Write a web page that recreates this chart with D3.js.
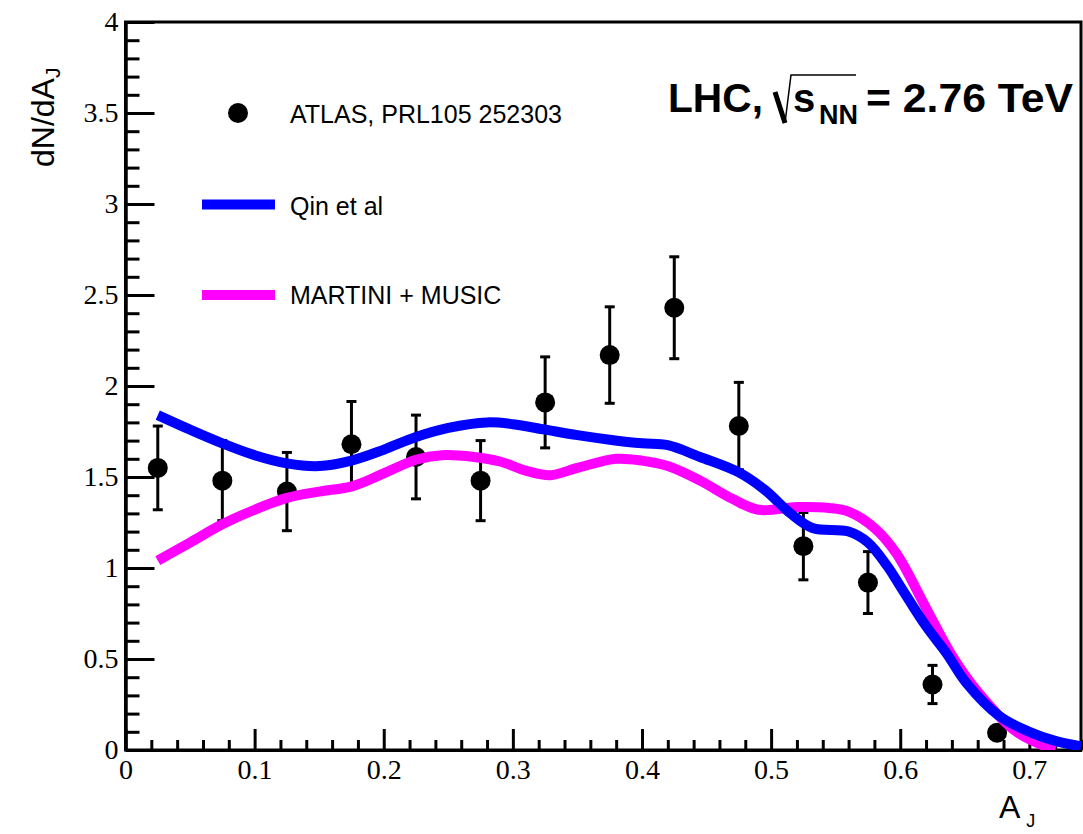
<!DOCTYPE html>
<html><head><meta charset="utf-8">
<script src="https://cdn.jsdelivr.net/npm/d3@7"></script>
<style>body{margin:0;background:#fff}</style>
</head><body>
<script>
// ATLAS data points (bin centres, values, errors)
const dataX   = [0.025,0.075,0.125,0.175,0.225,0.275,0.325,0.375,0.425,0.475,0.525,0.575,0.625,0.675];
const dataY   = [1.55, 1.48, 1.42, 1.68, 1.61, 1.48, 1.91, 2.17, 2.43, 1.78, 1.12, 0.92, 0.36, 0.095];
const dataErr = [0.23, 0.22, 0.215,0.235,0.23, 0.22, 0.25, 0.265,0.28, 0.24, 0.185,0.17, 0.105,0.0];

// Qin et al curve
const qinX = [0.025,0.05,0.075,0.1,0.125,0.15,0.175,0.2,0.225,0.25,0.28,0.30,0.325,0.35,0.375,0.40,0.42,0.445,0.475,0.495,0.515,0.532,0.56,0.575,0.59,0.60,0.62,0.636,0.651,0.677,0.70,0.72,0.74];
const qinY = [1.84,1.76,1.685,1.62,1.575,1.56,1.59,1.65,1.72,1.77,1.80,1.79,1.76,1.73,1.705,1.685,1.675,1.61,1.525,1.43,1.30,1.22,1.20,1.14,1.01,0.90,0.68,0.53,0.37,0.185,0.10,0.05,0.02];

// MARTINI + MUSIC curve
const martiniX = [0.025,0.05,0.075,0.1,0.125,0.15,0.176,0.2,0.225,0.245,0.27,0.29,0.31,0.329,0.35,0.38,0.40,0.42,0.445,0.47,0.49,0.52,0.545,0.56,0.58,0.597,0.62,0.64,0.66,0.69,0.72];
const martiniY = [1.04,1.14,1.24,1.32,1.385,1.42,1.45,1.52,1.595,1.62,1.61,1.585,1.535,1.51,1.55,1.60,1.59,1.56,1.48,1.38,1.32,1.335,1.33,1.31,1.22,1.08,0.78,0.52,0.32,0.10,0.0];

const xTicks = [0,0.1,0.2,0.3,0.4,0.5,0.6,0.7];
const xTickLabels = ["0","0.1","0.2","0.3","0.4","0.5","0.6","0.7"];
const yTicks = [0,0.5,1,1.5,2,2.5,3,3.5,4];
const yTickLabels = ["0","0.5","1","1.5","2","2.5","3","3.5","4"];

const legendLabels = ["ATLAS, PRL105 252303","Qin et al","MARTINI + MUSIC"];

const W = 1083, H = 834;
const svg = d3.select("body").append("svg").attr("width",W).attr("height",H)
  .style("background","#fff");

const x = d3.scaleLinear().domain([0,0.74]).range([125.5,1081]);
const y = d3.scaleLinear().domain([0,4]).range([750,22]);

const serif = "'Liberation Serif','Times New Roman',serif";
const sans = "'Liberation Sans',Arial,Helvetica,sans-serif";

// clip
svg.append("clipPath").attr("id","clip").append("rect")
  .attr("x",x(0)).attr("y",y(4)).attr("width",x(0.74)-x(0)).attr("height",y(0)-y(4));

// minor ticks
const yMinor = d3.range(0,4.0001,0.1).filter(v=>Math.abs(v*2-Math.round(v*2))>1e-6);
const xMinor = d3.range(0,0.7401,0.02).filter(v=>Math.abs(v*10-Math.round(v*10))>1e-6);

const yAxisMinor = svg.append("g").attr("transform",`translate(${x(0)},0)`)
  .call(d3.axisLeft(y).tickValues(yMinor).tickSize(-14).tickSizeOuter(0).tickFormat(""));
const yAxis = svg.append("g").attr("transform",`translate(${x(0)},0)`)
  .call(d3.axisLeft(y).tickValues(yTicks).tickSize(-29).tickSizeOuter(0).tickPadding(7)
    .tickFormat((d,i)=>yTickLabels[i]));
const xAxisMinor = svg.append("g").attr("transform",`translate(0,${y(0)})`)
  .call(d3.axisBottom(x).tickValues(xMinor).tickSize(-10).tickSizeOuter(0).tickFormat(""));
const xAxis = svg.append("g").attr("transform",`translate(0,${y(0)})`)
  .call(d3.axisBottom(x).tickValues(xTicks).tickSize(-21).tickSizeOuter(0).tickPadding(9)
    .tickFormat((d,i)=>xTickLabels[i]));

[yAxisMinor,yAxis,xAxisMinor,xAxis].forEach(g=>{
  g.selectAll("line").attr("stroke","#000").attr("stroke-width",3);
  g.select(".domain").attr("stroke","#000").attr("stroke-width",3);
  g.selectAll("text").attr("font-family",serif).attr("font-size",28).attr("fill","#000");
});

// frame
svg.append("rect").attr("x",x(0)).attr("y",y(4)).attr("width",x(0.74)-x(0)).attr("height",y(0)-y(4))
  .attr("fill","none").attr("stroke","#000").attr("stroke-width",3);

// data points
const pts = dataX.map((d,i)=>({x:d,y:dataY[i],e:dataErr[i]}));
const eb = svg.append("g");
pts.filter(p=>p.e>0).forEach(p=>{
  eb.append("line").attr("x1",x(p.x)).attr("x2",x(p.x)).attr("y1",y(p.y+p.e)).attr("y2",y(p.y-p.e))
    .attr("stroke","#000").attr("stroke-width",3);
  [p.y+p.e,p.y-p.e].forEach(v=>{
    eb.append("line").attr("x1",x(p.x)-5).attr("x2",x(p.x)+5).attr("y1",y(v)).attr("y2",y(v))
      .attr("stroke","#000").attr("stroke-width",3);
  });
});
svg.append("g").selectAll("circle").data(pts).join("circle")
  .attr("cx",d=>x(d.x)).attr("cy",d=>y(d.y)).attr("r",10).attr("fill","#000");

// curves
const line = d3.line().x(d=>x(d[0])).y(d=>y(d[1])).curve(d3.curveCatmullRom.alpha(0.5));
const gC = svg.append("g").attr("clip-path","url(#clip)");
gC.append("path").datum(martiniX.map((v,i)=>[v,martiniY[i]])).attr("d",line)
  .attr("fill","none").attr("stroke","#ff00ff").attr("stroke-width",10);
gC.append("path").datum(qinX.map((v,i)=>[v,qinY[i]])).attr("d",line)
  .attr("fill","none").attr("stroke","#0000ff").attr("stroke-width",10);

// legend
svg.append("circle").attr("cx",238).attr("cy",113).attr("r",10).attr("fill","#000");
svg.append("line").attr("x1",202).attr("x2",275).attr("y1",204.5).attr("y2",204.5)
  .attr("stroke","#0000ff").attr("stroke-width",10);
svg.append("line").attr("x1",202).attr("x2",275).attr("y1",295).attr("y2",295)
  .attr("stroke","#ff00ff").attr("stroke-width",10);
[[122.5,0],[215,1],[303.5,2]].forEach(([yy,i])=>{
  svg.append("text").attr("x",290).attr("y",yy).attr("font-family",sans).attr("font-size",25)
    .attr("fill","#000").text(legendLabels[i]);
});

// LHC label
const lhc = svg.append("g").attr("font-family",sans).attr("font-weight","bold").attr("fill","#000");
lhc.append("text").attr("x",668).attr("y",112).attr("font-size",40).attr("textLength",95)
  .attr("lengthAdjust","spacingAndGlyphs").text("LHC,");
lhc.append("path").attr("d","M775,92 L785,123").attr("stroke","#000").attr("stroke-width",5).attr("fill","none");
lhc.append("path").attr("d","M785,123 L791,75 L856,75").attr("stroke","#000").attr("stroke-width",1.5).attr("fill","none");
lhc.append("text").attr("x",793).attr("y",112).attr("font-size",40).text("s");
lhc.append("text").attr("x",819).attr("y",124).attr("font-size",27).text("NN");
lhc.append("text").attr("x",866).attr("y",112).attr("font-size",40).attr("textLength",207)
  .attr("lengthAdjust","spacingAndGlyphs").text("= 2.76 TeV");

// axis titles
const yt = svg.append("text").attr("transform","translate(54,167) rotate(-90)")
  .attr("font-family",sans).attr("font-size",32).attr("fill","#000");
yt.append("tspan").text("dN/dA");
yt.append("tspan").attr("font-size",21).attr("dy",6).text("J");

const xt = svg.append("text").attr("x",999).attr("y",818)
  .attr("font-family",sans).attr("font-size",32).attr("fill","#000");
xt.append("tspan").text("A");
xt.append("tspan").attr("font-size",18).attr("dy",9).attr("dx",6).text("J");
</script>
</body></html>
